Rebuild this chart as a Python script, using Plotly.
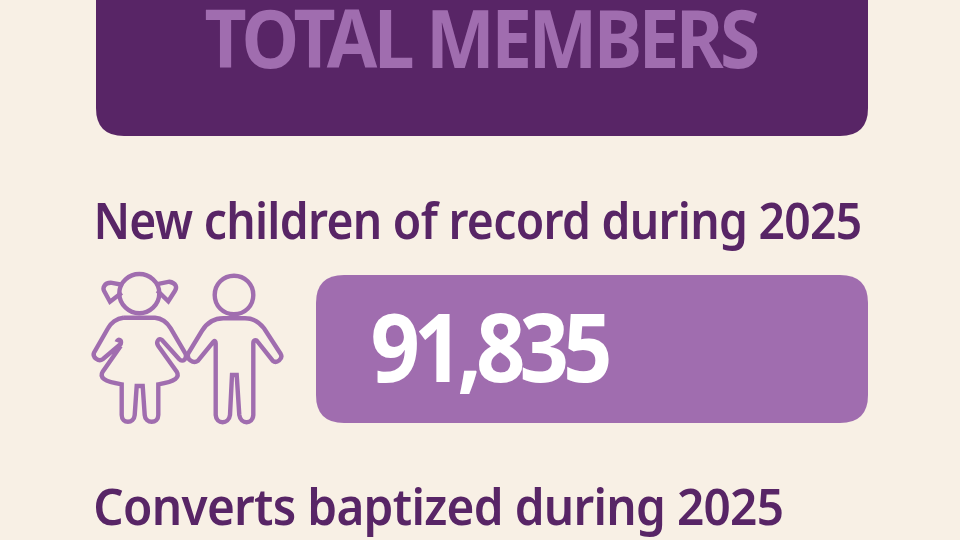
import re
import plotly.graph_objects as go

FONT = "Noto Sans"
BG = "#F8F0E5"
DARK = "#582566"
MID = "#A06DAF"

banner_label = ["TOTAL MEMBERS"]
headings = ["New children of record during 2025", "Converts baptized during 2025"]
stat_values = ["91,835"]

W, H = 960, 540


def rr(x0, y0, x1, y1, r):
    return (f"M{x0+r},{y0} L{x1-r},{y0} Q{x1},{y0} {x1},{y0+r} L{x1},{y1-r} Q{x1},{y1} {x1-r},{y1} "
            f"L{x0+r},{y1} Q{x0},{y1} {x0},{y1-r} L{x0},{y0+r} Q{x0},{y0} {x0+r},{y0} Z")


def icon_path(p):
    # icon outlines are sketched at 3x around (80, 260)
    def conv(m):
        return f"{80 + float(m.group(1)) / 3:.1f},{260 + float(m.group(2)) / 3:.1f}"
    return re.sub(r"(-?\d+(?:\.\d+)?),(-?\d+(?:\.\d+)?)", conv, p)


icon_paths = [
    # girl head
    "M118,100 C118,65 148,42 178,42 C208,42 238,65 238,100 C238,135 208,160 178,160 C148,160 118,135 118,100 Z",
    # pigtails
    "M130,75 L92,68 C72,68 68,85 72,92 L90,125 L125,98",
    "M228,73 L268,65 C288,68 292,82 285,92 L265,124 L232,92",
    # girl body
    "M130,173 C110,175 92,190 84,205 L42,278 C36,292 56,306 68,298 L122,252 C126,240 114,234 110,246 "
    "M122,258 L68,335 C58,352 70,364 125,373 L125,465 C125,492 162,492 164,465 L170,378 L188,378 L194,465 "
    "C196,492 235,492 235,465 L235,373 C288,364 300,352 290,335 L235,258 C226,244 238,232 246,240 "
    "L298,298 C308,308 324,296 316,280 L272,205 C262,188 245,175 225,173 L130,173",
    # boy head
    "M404,105 C404,72 430,47 462,47 C494,47 520,72 520,105 C520,138 494,163 462,163 C430,163 404,138 404,105 Z",
    # boy body
    "M430,175 C400,175 380,190 366,212 L325,280 C318,298 340,312 354,302 L400,246 C404,240 407,244 407,250 "
    "L407,465 C409,494 446,494 450,465 L456,345 L470,345 L478,465 C482,494 518,494 520,465 L520,250 "
    "C520,240 528,238 532,244 L578,302 C590,312 610,296 602,282 L552,205 C538,186 520,175 495,175 L430,175",
]

shapes = [
    dict(type="path", path=rr(96, -60, 868, 136, 28), fillcolor=DARK, line_width=0, layer="below"),
    dict(type="path", path=rr(316, 275, 868, 423, 28), fillcolor=MID, line_width=0, layer="below"),
]
for p in icon_paths:
    shapes.append(dict(type="path", path=icon_path(p), line=dict(color=MID, width=4.4), fillcolor="rgba(0,0,0,0)"))

annotations = [
    dict(text=banner_label[0], x=480, y=36, font=dict(size=80, color=MID, family=FONT, weight=700)),
    dict(text=headings[0], x=477, y=220, font=dict(size=50, color=DARK, family=FONT, weight=650)),
    dict(text=stat_values[0], x=488, y=345, font=dict(size=95, color="#FFFFFF", family=FONT, weight=700)),
    dict(text=headings[1], x=438, y=506, font=dict(size=50, color=DARK, family=FONT, weight=650)),
]
for a in annotations:
    a.update(xref="x", yref="y", showarrow=False, xanchor="center", yanchor="middle")

fig = go.Figure()
fig.update_layout(
    width=W, height=H, margin=dict(l=0, r=0, t=0, b=0),
    paper_bgcolor=BG, plot_bgcolor=BG, showlegend=False,
    xaxis=dict(range=[0, W], visible=False, fixedrange=True),
    yaxis=dict(range=[H, 0], visible=False, fixedrange=True),
    shapes=shapes, annotations=annotations,
)

text_widths = [552, 768, 236, 690]
tracking = ["-0.05em", "-0.015em", "-0.07em", "-0.015em"]
post = """
document.documentElement.style.margin='0';
document.body.style.margin='0';
document.body.style.background='%s';
var w=%s, k=%s;
document.querySelectorAll('.annotation-text').forEach(function(t,i){
  t.style.letterSpacing=k[i];
  t.setAttribute('textLength',w[i]);
  t.setAttribute('lengthAdjust','spacingAndGlyphs');
});
""" % (BG, text_widths, tracking)
fig.write_html("out.html", config=dict(displayModeBar=False), post_script=post)
